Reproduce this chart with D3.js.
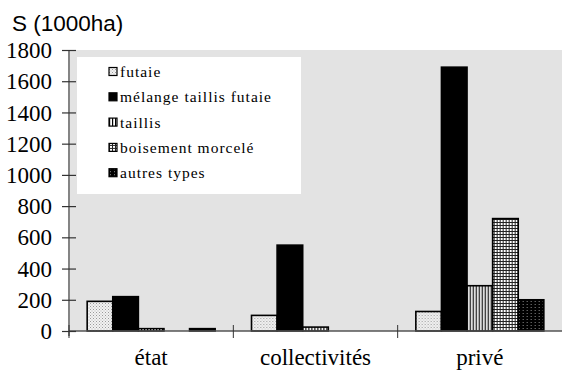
<!DOCTYPE html>
<html>
<head>
<meta charset="utf-8">
<script src="https://cdn.jsdelivr.net/npm/d3@7"></script>
<style>
  html, body { margin: 0; padding: 0; background: #fff; }
  svg { display: block; }
</style>
</head>
<body>
<svg id="chart" width="562" height="371"></svg>
<script>
// Surface forestière par propriétaire et type de peuplement (milliers d'ha)
const categories = ["état", "collectivités", "privé"];
const seriesNames = ["futaie", "mélange taillis futaie", "taillis", "boisement morcelé", "autres types"];
const futaie    = [190, 100, 125];
const melange   = [220, 550, 1690];
const taillis   = [15, 25, 290];
const boisement = [0, 0, 720];
const autres    = [15, 0, 200];
const yTicks = [0, 200, 400, 600, 800, 1000, 1200, 1400, 1600, 1800];

const seriesValues = [futaie, melange, taillis, boisement, autres];
const fills = ["url(#pFutaie)", "#000", "url(#pTaillis)", "url(#pBoisement)", "url(#pAutres)"];
const SERIF = '"Liberation Serif"';
const SANS = '"Liberation Sans"';

const svg = d3.select("#chart");
const margin = { left: 69, right: 0, top: 50, bottom: 40 };
const W = 562, H = 371;
const plotBottom = 331;

// patterns
const defs = svg.append("defs");
const pf = defs.append("pattern").attr("id", "pFutaie").attr("patternUnits", "userSpaceOnUse")
  .attr("width", 3).attr("height", 3);
pf.append("rect").attr("width", 3).attr("height", 3).attr("fill", "#f2f2f2");
pf.append("rect").attr("x", 0).attr("y", 0).attr("width", 1).attr("height", 1).attr("fill", "#9a9a9a");
pf.append("rect").attr("x", 1.5).attr("y", 1.5).attr("width", 1).attr("height", 1).attr("fill", "#b5b5b5");

const pt = defs.append("pattern").attr("id", "pTaillis").attr("patternUnits", "userSpaceOnUse")
  .attr("width", 3).attr("height", 3);
pt.append("rect").attr("width", 3).attr("height", 3).attr("fill", "#fff");
pt.append("rect").attr("width", 1.2).attr("height", 3).attr("fill", "#000");

const pb = defs.append("pattern").attr("id", "pBoisement").attr("patternUnits", "userSpaceOnUse")
  .attr("width", 3).attr("height", 3);
pb.append("rect").attr("width", 3).attr("height", 3).attr("fill", "#fff");
pb.append("rect").attr("width", 1).attr("height", 3).attr("fill", "#222");
pb.append("rect").attr("width", 3).attr("height", 1).attr("fill", "#222");

const pa = defs.append("pattern").attr("id", "pAutres").attr("patternUnits", "userSpaceOnUse")
  .attr("width", 4).attr("height", 3);
pa.append("rect").attr("width", 4).attr("height", 3).attr("fill", "#000");
pa.append("rect").attr("x", 1).attr("y", 1).attr("width", 1).attr("height", 1).attr("fill", "#8a8a8a");

// scales
const x0 = d3.scaleBand().domain(categories).range([margin.left, W]).paddingInner(0).paddingOuter(0);
const x1 = d3.scaleBand().domain(d3.range(seriesNames.length)).range([0, x0.bandwidth()])
  .paddingInner(0).paddingOuter(0.71);
const y = d3.scaleLinear().domain([0, 1800]).range([plotBottom, margin.top]);

// plot background
svg.append("rect").attr("x", margin.left + 1).attr("y", y(1800))
  .attr("width", W - margin.left - 1).attr("height", plotBottom - y(1800))
  .attr("fill", "#e3e3e3");

// bars
const groups = svg.append("g").selectAll("g").data(categories).join("g")
  .attr("transform", d => `translate(${x0(d)},0)`);
groups.selectAll("rect")
  .data((c, ci) => seriesValues.map((vals, si) => ({ si, v: vals[ci] })).filter(d => d.v > 0))
  .join("rect")
  .attr("x", d => x1(d.si))
  .attr("y", d => y(d.v))
  .attr("width", x1.bandwidth())
  .attr("height", d => plotBottom - y(d.v))
  .attr("fill", d => fills[d.si])
  .attr("stroke", "#000")
  .attr("stroke-width", 1.6);

// x axis
const xAxis = svg.append("g").attr("transform", `translate(0,${plotBottom})`);
xAxis.append("line").attr("x1", margin.left).attr("x2", W).attr("stroke", "#555").attr("stroke-width", 1.5);
const xBounds = categories.map(c => x0(c));
xAxis.selectAll("line.tk").data(xBounds).join("line").attr("class", "tk")
  .attr("x1", d => d).attr("x2", d => d).attr("y1", -6).attr("y2", 7)
  .attr("stroke", "#333").attr("stroke-width", 1);
xAxis.selectAll("text").data(categories).join("text")
  .attr("x", d => x0(d) + x0.bandwidth() / 2).attr("y", 34)
  .attr("text-anchor", "middle")
  .style("font-family", SERIF).style("font-size", "23px").attr("fill", "#000")
  .text(d => d);

// y axis
const yAxis = d3.axisLeft(y).tickValues(yTicks).tickSize(7).tickPadding(10).tickFormat(d3.format("d"));
const yg = svg.append("g").attr("transform", `translate(${margin.left},0)`).call(yAxis);
yg.select(".domain").remove();
yg.append("line").attr("y1", y(1800)).attr("y2", plotBottom + 5).attr("stroke", "#333").attr("stroke-width", 1.2);
yg.selectAll(".tick line").attr("x1", -7).attr("x2", 7).attr("stroke", "#333").attr("stroke-width", 1.2);
yg.selectAll(".tick text")
  .style("font-family", SERIF).style("font-size", "23px").attr("fill", "#000").attr("dy", "0.33em");

// unit title
svg.append("text").attr("x", 12).attr("y", 31)
  .style("font-family", SANS).style("font-size", "22.5px").attr("fill", "#000")
  .text("S (1000ha)");

// legend
const legend = svg.append("g");
legend.append("rect").attr("x", 77).attr("y", 57).attr("width", 224).attr("height", 137).attr("fill", "#fff");
const li = legend.selectAll("g").data(seriesNames).join("g")
  .attr("transform", (d, i) => `translate(109,${72 + i * 25.3})`);
li.append("rect").attr("x", 0).attr("y", -4.5).attr("width", 8).attr("height", 8)
  .attr("fill", (d, i) => fills[i]).attr("stroke", "#000").attr("stroke-width", 1.2);
li.append("text").attr("x", 11).attr("y", 5)
  .style("font-family", SERIF).style("font-size", "15.5px").style("letter-spacing", "1px").attr("fill", "#000")
  .text(d => d);
</script>
</body>
</html>
